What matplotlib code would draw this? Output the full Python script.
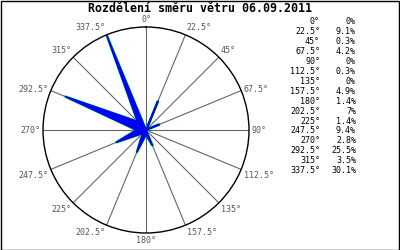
import numpy as np
import matplotlib
matplotlib.use("Agg")
import matplotlib.pyplot as plt
from matplotlib.patches import Rectangle

title = "Rozdělení směru větru 06.09.2011"
directions = [0, 22.5, 45, 67.5, 90, 112.5, 135, 157.5,
              180, 202.5, 225, 247.5, 270, 292.5, 315, 337.5]
percent = [0, 9.1, 0.3, 4.2, 0, 0.3, 0, 4.9,
           1.4, 7, 1.4, 9.4, 2.8, 25.5, 3.5, 30.1]

W, H = 400, 250
fig = plt.figure(figsize=(W / 100, H / 100), dpi=100)
fig.patch.set_facecolor("white")

cx, cy, R = 146, 130, 103
ax = fig.add_axes([(cx - R) / W, (H - cy - R) / H, 2 * R / W, 2 * R / H],
                  projection="polar")
ax.set_theta_zero_location("N")
ax.set_theta_direction(-1)
rmax = max(percent)
ax.set_ylim(0, rmax)
ax.set_xticks([])
ax.set_yticks([])
ax.grid(False)
ax.set_facecolor("white")
ax.spines["polar"].set_color("black")
ax.spines["polar"].set_linewidth(1.0)

mono = "DejaVu Sans Mono"
th = np.deg2rad(directions)

# axis lines
for d, t in zip(directions, th):
    ax.plot([t, t], [0, rmax], color="#666666", lw=0.8, zorder=1,
            solid_capstyle="butt")

# radar polygon
tc = np.append(th, th[0])
vc = np.append(percent, percent[0])
ax.plot(tc, vc, color="#00ee00", lw=1.8, zorder=2, solid_joinstyle="round")
ax.fill(tc, vc, facecolor="#0000ff", edgecolor="#0000ff", lw=1.2,
        joinstyle="round", zorder=3)

# axis labels
rl = rmax * (1 + 3 / R)
for d, t in zip(directions, th):
    s, c = np.sin(t), np.cos(t)
    ha = "left" if s > 0.01 else ("right" if s < -0.01 else "center")
    va = "bottom" if c > 0.5 else ("center" if c > -0.01 else "top")
    if abs(s) < 0.01 and c < 0:
        va = "top"
    ax.text(t, rl, f"{d:g}°", ha=ha, va=va, fontsize=6, family=mono,
            color="#555555", clip_on=False)

# title
fig.text(0.5, 1 - 9 / H, title, ha="center", va="center", fontsize=8.4,
         family=mono, fontweight="bold", color="black")

# table
y0, dy = 22, 9.9
for i, (d, p) in enumerate(zip(directions, percent)):
    y = 1 - (y0 + i * dy) / H
    fig.text(320 / W, y, f"{d:g}°", ha="right", va="center", fontsize=6,
             family=mono, color="black")
    fig.text(356 / W, y, f"{p:g}%", ha="right", va="center", fontsize=6,
             family=mono, color="black")

# frame
fig.add_artist(Rectangle((0.5 / W, 0.5 / H), 1 - 1.5 / W, 1 - 1.5 / H,
                         transform=fig.transFigure, fill=False,
                         edgecolor="black", lw=1.0))

fig.savefig("out.png", dpi=100, facecolor="white")
